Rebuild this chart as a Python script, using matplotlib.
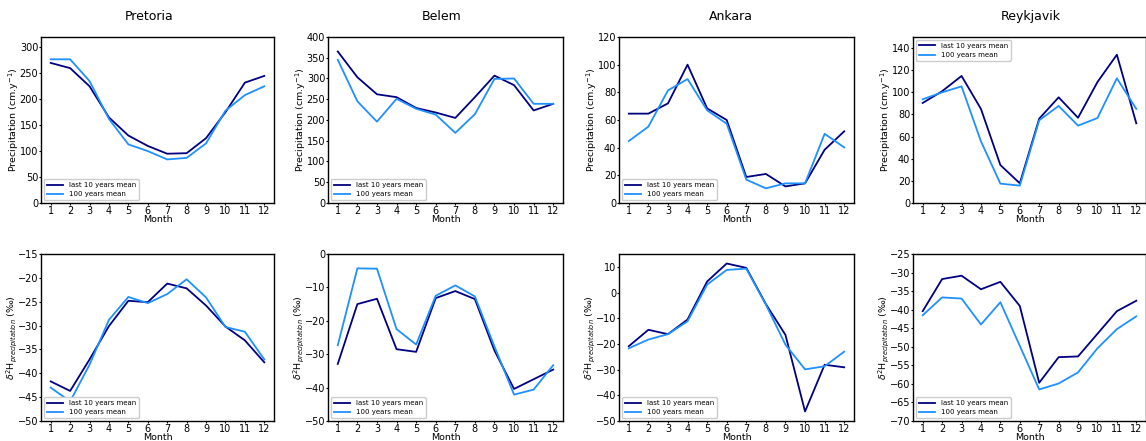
# Monthly precipitation and d2H for four stations: last 10 years vs 100 years mean
import matplotlib
matplotlib.use('Agg')
import matplotlib.pyplot as plt
import numpy as np

months = list(range(1, 13))
cities = ['Pretoria', 'Belem', 'Ankara', 'Reykjavik']

# Precipitation (cm.y-1)
prec_last10 = {
    'Pretoria': [270, 260, 225, 165, 130, 110, 95, 96, 125, 175, 232, 245],
    'Belem': [365, 303, 262, 255, 229, 218, 205, 255, 307, 284, 223, 239],
    'Ankara': [64.6, 64.6, 72, 100, 68.4, 60, 18.8, 21, 12, 14.2, 38.5, 51.8],
    'Reykjavik': [90.4, 101, 114.8, 85, 34.3, 17.8, 76.2, 95.5, 77, 109.3, 134, 72],
}
prec_100y = {
    'Pretoria': [277, 277, 235, 162, 113, 100, 84, 87, 115, 178, 208, 225],
    'Belem': [345, 245, 196, 251, 227, 213, 169, 214, 299, 300, 239, 239],
    'Ankara': [44.8, 55.2, 81.4, 89.6, 67, 57.3, 16.9, 10.6, 14.2, 14.2, 50, 40.2],
    'Reykjavik': [93.7, 100, 105.4, 55.7, 17.5, 15.7, 74.7, 87.7, 69.9, 76.8, 112.7, 85],
}

# delta 2H of precipitation (permil)
d2h_last10 = {
    'Pretoria': [-41.7, -43.7, -37.1, -30.1, -24.8, -25.1, -21.2, -22.2, -25.8, -30.2, -33.1, -37.7],
    'Belem': [-32.9, -15, -13.4, -28.5, -29.3, -13.2, -11.1, -13.5, -28.9, -40.4, -37.5, -34.6],
    'Ankara': [-20.9, -14.5, -16.2, -10.5, 4.3, 11.3, 9.6, -4.5, -16.5, -46.3, -28.1, -29.1],
    'Reykjavik': [-40.4, -31.75, -30.85, -34.5, -32.5, -39, -59.7, -52.8, -52.6, -46.5, -40.4, -37.6],
}
d2h_100y = {
    'Pretoria': [-43, -45.9, -38.2, -28.8, -24, -25.3, -23.4, -20.3, -24.1, -30.3, -31.3, -37.1],
    'Belem': [-27.3, -4.3, -4.4, -22.5, -27.1, -12.5, -9.4, -12.7, -27.7, -42.1, -40.6, -33.3],
    'Ankara': [-21.7, -18.3, -16.2, -11.2, 3.1, 8.8, 9.3, -4.7, -20.3, -29.9, -28.7, -23],
    'Reykjavik': [-41.5, -36.7, -37, -44, -38, -49.75, -61.5, -59.9, -56.9, -50.4, -45.25, -41.8],
}

# axis ranges and tick steps
prec_ylim = {'Pretoria': (0, 320), 'Belem': (0, 400), 'Ankara': (0, 120), 'Reykjavik': (0, 150)}
prec_ticks = {'Pretoria': (0, 300, 50), 'Belem': (0, 400, 50), 'Ankara': (0, 120, 20),
              'Reykjavik': (0, 140, 20)}
d2h_ylim = {'Pretoria': (-50, -15), 'Belem': (-50, 0), 'Ankara': (-50, 15), 'Reykjavik': (-70, -25)}
d2h_ticks = {'Pretoria': (-50, -15, 5), 'Belem': (-50, 0, 10), 'Ankara': (-50, 10, 10),
             'Reykjavik': (-70, -25, 5)}

W, H = 1146, 441
fig = plt.figure(figsize=(W / 100, H / 100), dpi=100)

lefts = [41, 328, 619, 913]
rights = [274, 563, 854, 1146]
title_x = [149, 442, 731, 1031]
top_row = (37, 203)
bot_row = (254, 421)

c_last = 'navy'
c_100 = 'dodgerblue'


def make_ax(i, row):
    l, r = lefts[i], rights[i]
    t, b = row
    return fig.add_axes([l / W, 1 - b / H, (r - l) / W, (b - t) / H])


def style(ax, ylim, ticks):
    ax.set_xlim(0.5, 12.5)
    ax.set_xticks(months)
    ax.set_ylim(*ylim)
    lo, hi, step = ticks
    ax.set_yticks(np.arange(lo, hi + step / 2, step))
    ax.tick_params(labelsize=7, length=1.5, width=0.8, pad=0.5)
    ax.set_xlabel('Month', fontsize=6.8, labelpad=-0.5)
    for s in ax.spines.values():
        s.set_linewidth(1.0)


for i, city in enumerate(cities):
    tx = (title_x[i] - lefts[i]) / (rights[i] - lefts[i])

    ax = make_ax(i, top_row)
    ax.plot(months, prec_last10[city], color=c_last, lw=1.3, label='last 10 years mean')
    ax.plot(months, prec_100y[city], color=c_100, lw=1.3, label='100 years mean')
    style(ax, prec_ylim[city], prec_ticks[city])
    ax.set_ylabel('Precipitation (cm.y$^{-1}$)', fontsize=6.8, labelpad=-1)
    ax.set_title(city, fontsize=9, pad=12, x=tx)
    loc = 'upper left' if city == 'Reykjavik' else 'lower left'
    ax.legend(loc=loc, fontsize=5, handlelength=2.4, borderaxespad=0.4, framealpha=1)

    ax = make_ax(i, bot_row)
    ax.plot(months, d2h_last10[city], color=c_last, lw=1.3, label='last 10 years mean')
    ax.plot(months, d2h_100y[city], color=c_100, lw=1.3, label='100 years mean')
    style(ax, d2h_ylim[city], d2h_ticks[city])
    ax.set_ylabel(r'$\delta^{2}$H$_{precipitation}$ (‰)', fontsize=6.8, labelpad=-1)
    ax.legend(loc='lower left', fontsize=5, handlelength=2.4, borderaxespad=0.4, framealpha=1)

fig.savefig('out.png', dpi=100)
